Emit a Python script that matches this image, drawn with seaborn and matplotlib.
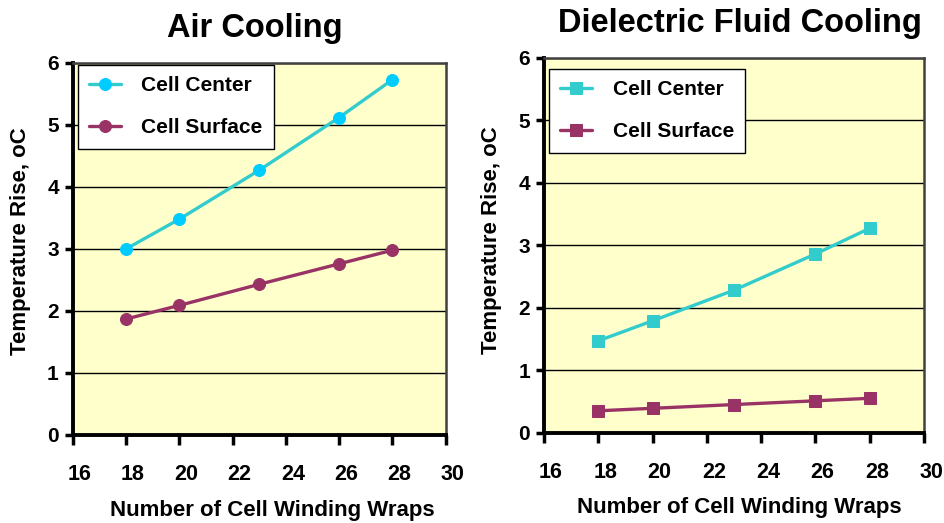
import matplotlib
matplotlib.use("Agg")
import matplotlib.pyplot as plt
import matplotlib.transforms as mtransforms
import seaborn as sns

# Data
wraps = [18, 20, 23, 26, 28]
air_center = [3.00, 3.48, 4.27, 5.12, 5.73]
air_surface = [1.87, 2.09, 2.43, 2.76, 2.98]
fluid_center = [1.47, 1.79, 2.28, 2.86, 3.27]
fluid_surface = [0.35, 0.39, 0.45, 0.51, 0.55]
x_ticks = [16, 18, 20, 22, 24, 26, 28, 30]
y_ticks = [0, 1, 2, 3, 4, 5, 6]
titles = ["Air Cooling", "Dielectric Fluid Cooling"]
series_names = ["Cell Center", "Cell Surface"]

sns.set_style("ticks")
plt.rcParams['font.family'] = ['Liberation Sans', 'DejaVu Sans']
plt.rcParams['font.weight'] = 'bold'
plt.rcParams['text.color'] = 'black'
plt.rcParams['axes.labelcolor'] = 'black'
plt.rcParams['xtick.color'] = 'black'
plt.rcParams['ytick.color'] = 'black'
plt.rcParams['xtick.labelcolor'] = 'black'
plt.rcParams['ytick.labelcolor'] = 'black'

fig = plt.figure(figsize=(9.45, 5.23), dpi=100)
fig.patch.set_facecolor("white")

ax1 = fig.add_axes([0.0769, 0.1683, 0.3947, 0.7113])
ax2 = fig.add_axes([0.5757, 0.1727, 0.4021, 0.7170])

configs = [
    (ax1, air_center, air_surface, 'o', "#33CCCC", "#00CCFF", 8.6),
    (ax2, fluid_center, fluid_surface, 's', "#33CCCC", "#33CCCC", 9.0),
]

for ax, center, surface, mk, lc, mc, ms in configs:
    ax.set_facecolor("#FFFFCC")
    ax.yaxis.grid(True, color="black", linewidth=1.0)
    ax.set_axisbelow(True)
    sns.lineplot(x=wraps, y=center, ax=ax, color=lc, linewidth=2.4, marker=mk,
                 markersize=ms, markerfacecolor=mc, markeredgecolor=mc,
                 label=series_names[0])
    sns.lineplot(x=wraps, y=surface, ax=ax, color="#993366", linewidth=2.4, marker=mk,
                 markersize=ms, markerfacecolor="#993366", markeredgecolor="#993366",
                 label=series_names[1])
    ax.set_xlim(16, 30)
    ax.set_ylim(0, 6)
    ax.set_xticks(x_ticks)
    ax.set_yticks(y_ticks)
    ax.set_xticklabels([str(t) for t in x_ticks], fontsize=15.5, fontweight='bold')
    ax.set_yticklabels([str(t) for t in y_ticks], fontsize=15, fontweight='bold')
    ax.tick_params(axis='x', direction='out', length=7, width=2.5, pad=14, color='black')
    ax.tick_params(axis='y', direction='out', length=6, width=2.5, pad=4, color='black')
    offset = mtransforms.ScaledTranslation(7/100, 0, fig.dpi_scale_trans)
    for lab in ax.get_xticklabels():
        lab.set_transform(lab.get_transform() + offset)
    for side in ['left', 'bottom']:
        ax.spines[side].set_color('black')
        ax.spines[side].set_linewidth(2.8)
    for side in ['top', 'right']:
        ax.spines[side].set_visible(True)
        ax.spines[side].set_color('#404040')
        ax.spines[side].set_linewidth(1.8)
    ax.set_xlabel("Number of Cell Winding Wraps", fontsize=16, fontweight='bold')
    ax.set_ylabel("Temperature Rise, oC", fontsize=16, fontweight='bold', va='center')

ax1.xaxis.set_label_coords(0.534, -0.175)
ax1.yaxis.set_label_coords(-0.141, 0.52)
ax2.xaxis.set_label_coords(0.513, -0.171)
ax2.yaxis.set_label_coords(-0.137, 0.514)

for ax, anchor in [(ax1, (0.014, 0.995)), (ax2, (0.013, 0.97))]:
    leg = ax.legend(loc='upper left', bbox_to_anchor=anchor, fancybox=False,
                    framealpha=1, edgecolor='black', facecolor='white',
                    prop={'size': 15, 'weight': 'bold'}, handlelength=1.5,
                    labelspacing=1.1, borderpad=0.55, handletextpad=1.0,
                    borderaxespad=0)
    leg.get_frame().set_linewidth(1.0)

fig.text(0.27, 0.946, titles[0], fontsize=23.5, fontweight='bold', ha='center', va='center')
fig.text(0.783, 0.956, titles[1], fontsize=23.5, fontweight='bold', ha='center', va='center')

fig.savefig("out.png", dpi=100)
